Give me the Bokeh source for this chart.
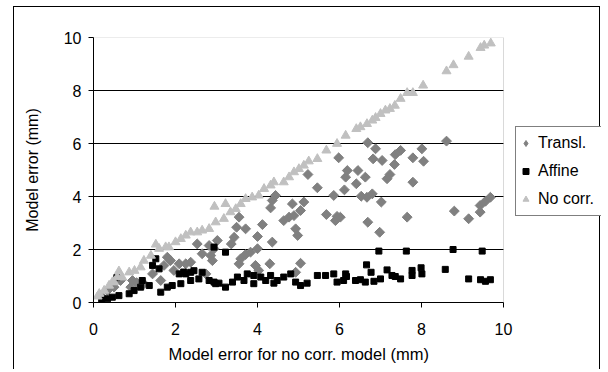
import numpy as np
from bokeh.plotting import figure
from bokeh.models import (Legend, LegendItem, FixedTicker, Range1d, BoxAnnotation, Title)
from bokeh.embed import file_html
from bokeh.resources import INLINE

# ---------------- data ----------------
series_names = ["Transl.", "Affine", "No corr."]
axis_ticks = [0, 2, 4, 6, 8, 10]
grid_ticks = [2, 4, 6, 8]

transl_x = [0.18, 0.34, 0.50, 0.66, 0.91, 0.95, 1.05, 1.23, 1.44, 1.64, 1.72, 1.80, 1.88, 1.96,
            2.09, 2.25, 2.37, 2.53, 2.65, 2.74, 2.82, 2.86, 2.90, 2.94, 3.02, 3.36, 3.43,
            3.49, 3.55, 3.55, 3.59, 3.71, 3.71, 3.83, 3.95, 4.00, 4.00, 4.03, 4.12, 4.30,
            4.32, 4.36, 4.36, 4.44, 4.64, 4.77, 4.85, 4.89, 4.93, 4.93, 4.98, 5.05, 5.05,
            5.13, 5.23, 5.46, 5.68, 5.86, 5.90, 5.94, 5.98, 6.02, 6.12, 6.15, 6.19, 6.41,
            6.45, 6.53, 6.63, 6.67, 6.69, 6.69, 6.80, 6.82, 6.88, 6.98, 7.02, 7.04, 7.16,
            7.23, 7.34, 7.36, 7.49, 7.65, 7.79, 7.79, 8.01, 8.05, 8.61, 8.80, 9.15, 9.43,
            9.43, 9.56, 9.68]
transl_y = [0.26, 0.45, 0.58, 0.83, 0.58, 0.83, 0.75, 0.71, 1.08, 0.83, 1.40, 1.71, 1.58, 1.21,
            1.46, 1.46, 1.52, 2.21, 1.84, 1.08, 2.15, 1.77, 1.58, 2.03, 2.34, 2.21, 2.46,
            2.84, 3.22, 1.46, 1.65, 2.78, 1.81, 1.90, 1.40, 2.49, 2.03, 1.21, 2.94, 1.46,
            3.57, 3.85, 2.28, 4.04, 3.09, 3.22, 3.72, 3.28, 2.78, 1.14, 2.53, 3.47, 1.48,
            3.79, 4.83, 4.33, 3.32, 4.04, 3.09, 3.25, 5.46, 3.22, 4.25, 4.73, 4.98, 4.48,
            4.98, 4.01, 4.73, 3.97, 6.03, 3.03, 4.10, 5.42, 5.80, 2.65, 3.79, 5.36, 4.67,
            4.83, 5.21, 5.58, 5.74, 3.22, 5.46, 4.54, 5.80, 5.33, 6.09, 3.45, 3.16, 3.41,
            3.66, 3.82, 3.97]

affine_x = [0.20, 0.34, 0.46, 0.57, 0.62, 0.87, 0.99, 1.15, 1.19, 1.36, 1.44, 1.52, 1.60, 1.64,
            1.80, 1.92, 2.09, 2.13, 2.20, 2.25, 2.37, 2.37, 2.45, 2.57, 2.65, 2.82, 2.94,
            2.94, 2.98, 3.06, 3.22, 3.22, 3.39, 3.51, 3.67, 3.75, 3.91, 3.91, 4.08, 4.20,
            4.32, 4.40, 4.48, 4.64, 4.81, 4.93, 5.05, 5.21, 5.46, 5.66, 5.86, 5.94, 6.10,
            6.15, 6.17, 6.39, 6.51, 6.63, 6.66, 6.77, 6.84, 6.96, 7.00, 7.16, 7.28, 7.36,
            7.49, 7.63, 7.77, 7.77, 7.99, 8.01, 8.58, 8.77, 9.15, 9.44, 9.48, 9.56, 9.68]
affine_y = [0.10, 0.14, 0.20, 0.94, 0.26, 0.33, 0.45, 0.58, 0.83, 0.64, 1.40, 1.65, 1.27, 0.39,
            0.58, 0.64, 1.08, 0.71, 1.15, 1.08, 1.14, 0.83, 1.20, 0.89, 1.14, 0.83, 2.09,
            0.77, 0.71, 0.73, 1.90, 0.58, 0.77, 0.96, 0.83, 1.08, 1.02, 0.71, 0.96, 0.83,
            1.02, 0.73, 0.83, 0.96, 1.08, 0.77, 0.64, 0.73, 1.02, 1.02, 1.08, 0.77, 0.83,
            1.08, 0.98, 0.83, 0.86, 0.77, 1.42, 1.14, 0.80, 1.94, 0.89, 1.23, 1.02, 0.98,
            0.89, 1.94, 1.21, 1.02, 1.31, 1.08, 1.25, 2.00, 0.89, 0.86, 1.94, 0.80, 0.86]

nocorr_x = [0.10, 0.14, 0.26, 0.38, 0.46, 0.50, 0.58, 0.62, 0.70, 0.87, 1.00, 1.15, 1.23, 1.40,
            1.52, 1.60, 1.76, 1.84, 2.00, 2.13, 2.25, 2.37, 2.53, 2.65, 2.82, 2.95, 2.98,
            3.18, 3.22, 3.34, 3.47, 3.59, 3.71, 3.87, 4.03, 4.16, 4.32, 4.40, 4.64, 4.77,
            4.89, 5.01, 5.13, 5.25, 5.46, 5.68, 5.94, 6.15, 6.41, 6.51, 6.67, 6.80, 6.88,
            7.00, 7.12, 7.23, 7.35, 7.49, 7.65, 7.79, 8.04, 8.61, 8.78, 9.15, 9.44, 9.53,
            9.69]
nocorr_y = [0.23, 0.33, 0.45, 0.64, 0.77, 0.77, 0.96, 1.18, 0.95, 1.14, 1.20, 1.33, 1.58, 1.77,
            2.19, 2.03, 2.09, 2.09, 2.28, 2.40, 2.53, 2.65, 2.65, 2.72, 2.78, 3.62, 3.03,
            3.16, 3.72, 3.41, 3.53, 3.72, 3.91, 3.97, 4.04, 4.29, 4.42, 4.54, 4.54, 4.73,
            4.92, 5.04, 5.17, 5.33, 5.42, 5.74, 5.99, 6.30, 6.55, 6.62, 6.74, 6.87, 6.97,
            7.12, 7.25, 7.31, 7.43, 7.69, 7.91, 7.91, 8.19, 8.73, 8.96, 9.28, 9.61, 9.70,
            9.78]

x_title = "Model error for no corr. model (mm)"
y_title = "Model error (mm)"

FONT = "Liberation Sans"
FS = "16px"

# layout: plot area is 410 px wide for x 0..10; the frame also covers the legend area
W, H = 587, 363
LEFT, TOP, BOTTOM = 79, 30, 68
PLOT_W = 410
frame_w = W - LEFT
x_end = axis_ticks[-1] * frame_w / PLOT_W

p = figure(width=W, height=H, output_backend="svg", toolbar_location=None,
           x_range=Range1d(0, x_end), y_range=Range1d(0, 10),
           min_border_left=LEFT, min_border_right=0, min_border_top=TOP,
           min_border_bottom=BOTTOM)
p.margin = (6, 0, 0, 13)
p.styles = {"border-left": "1px solid black", "border-top": "1px solid black",
            "border-right": "1px solid black"}
p.background_fill_color = "white"
p.border_fill_color = "white"
p.outline_line_color = None

for ax in (p.xaxis[0], p.yaxis[0]):
    ax.ticker = FixedTicker(ticks=axis_ticks)
    ax.minor_tick_line_color = None
    ax.major_tick_in = 0
    ax.major_tick_out = 5
    ax.axis_line_color = "black"
    ax.major_tick_line_color = "black"
    ax.major_label_text_font = FONT
    ax.major_label_text_font_size = FS
    ax.major_label_text_color = "black"
    ax.axis_label_text_font = FONT
    ax.axis_label_text_font_size = FS
    ax.axis_label_text_font_style = "normal"
    ax.axis_label_text_color = "black"

p.xaxis.bounds = (axis_ticks[0], axis_ticks[-1])
p.yaxis.axis_label = y_title
p.xaxis.major_label_standoff = 15
p.yaxis.major_label_standoff = 7
p.yaxis.axis_label_standoff = 20

# x-axis title centred under the plot area (not under the legend)
xt = Title(text=x_title, align="left", offset=75, standoff=10,
           text_font=FONT, text_font_size="16.5px", text_font_style="normal",
           text_color="black")
p.add_layout(xt, "below")

p.xgrid.visible = False
p.ygrid.visible = False

# plot-area border (gray) and horizontal gridlines limited to the x range 0..10
area = BoxAnnotation(left=axis_ticks[0], right=axis_ticks[-1],
                     bottom=axis_ticks[0], top=axis_ticks[-1],
                     fill_color=None, fill_alpha=0, line_color="#808080", line_width=1,
                     level="underlay")
p.add_layout(area)
g = p.segment(x0=[axis_ticks[0]] * len(grid_ticks), y0=grid_ticks,
              x1=[axis_ticks[-1]] * len(grid_ticks), y1=grid_ticks,
              line_color="black", line_width=1)
g.level = "underlay"

# legend key for the rotated squares: a diamond hidden under the first Transl. point
r_t_key = p.scatter(x=transl_x[:1], y=transl_y[:1], marker="diamond", size=9,
                    fill_color="#808080", line_color="#808080")
r_t = p.scatter(transl_x, transl_y, marker="square", size=7, angle=np.pi / 4,
                fill_color="#808080", line_color="#808080")
r_a = p.scatter(affine_x, affine_y, marker="square", size=6,
                fill_color="black", line_color="black")
r_n = p.scatter(nocorr_x, nocorr_y, marker="triangle", size=9,
                fill_color="#C0C0C0", line_color="#C0C0C0")

legend = Legend(items=[LegendItem(label=series_names[0], renderers=[r_t_key]),
                       LegendItem(label=series_names[1], renderers=[r_a]),
                       LegendItem(label=series_names[2], renderers=[r_n])],
                location=(PLOT_W + 12, 86), orientation="vertical",
                padding=2, spacing=0, margin=0,
                glyph_width=15, glyph_height=28, label_height=28, label_width=61,
                label_standoff=5,
                label_text_font=FONT, label_text_font_size=FS, label_text_color="black",
                border_line_color="black", border_line_width=1,
                background_fill_color="white", background_fill_alpha=1)
p.add_layout(legend, "center")

open("out.html", "w").write(file_html(p, INLINE))
